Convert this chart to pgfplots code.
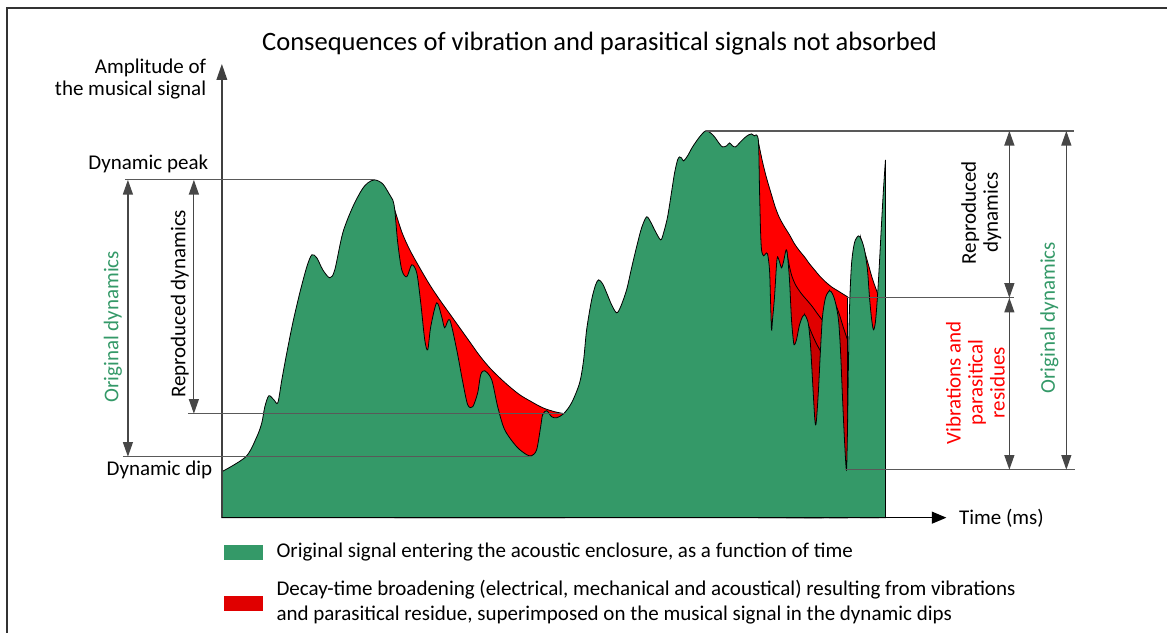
\documentclass[border=0pt]{standalone}
\usepackage{fontspec}
\setmainfont{Carlito}
\usepackage{pgfplots}
\pgfplotsset{compat=1.18}
\usetikzlibrary{arrows.meta}
\definecolor{sig}{RGB}{52,153,104}
\definecolor{dred}{RGB}{224,0,0}
\definecolor{ddred}{RGB}{200,0,0}
\definecolor{gl}{RGB}{89,89,89}
\newcommand{\lbl}{\fontsize{15.75}{16.5}\selectfont}
\newcommand{\ttl}{\fontsize{19.9}{22}\selectfont}
\newcommand{\leg}{\fontsize{15.75}{18.75}\selectfont}
\begin{document}
\begin{tikzpicture}
\begin{axis}[scale only axis, width=876pt, height=474.75pt,
  xmin=0, xmax=1168, ymin=-115, ymax=518, hide axis, clip=false]
\path (axis cs:0,-115) rectangle (axis cs:1168,518);
% frame
\draw[black!80, line width=1.1pt] (axis cs:7,-115) -- (axis cs:7,510) -- (axis cs:1168,510);
% ---- red envelopes
\addplot[fill=red, draw=black, line width=0.6pt, smooth, tension=0.5] coordinates {
(395,308) (402,286) (410,268) (420,250) (430,233) (440,218) (450,204) (460,190)
(470,176) (480,162) (490,150) (500,140) (510,131) (520,123) (530,117) (543,110)
(555,106) (565,104)} \closedcycle;
\addplot[fill=red, draw=black, line width=0.6pt, smooth, tension=0.5] coordinates {
(759,375) (763,356) (767,340) (772,323) (776,310) (780,300) (785,291) (790,283)
(795,274) (800,267) (805,261) (810,254) (815,248) (820,242) (826,236) (832,231)
(840,226) (848,221)} \closedcycle;
\addplot[fill=dred, draw=black, line width=0.6pt, smooth, tension=0.5] coordinates {
(787,268) (789,256) (792,243) (796,233) (802,224) (808,217) (813,211) (818,204) (824,196)} \closedcycle;
\addplot[fill=ddred, draw=black, line width=0.6pt, smooth, tension=0.5] coordinates {
(805,203) (808,195) (812,185) (817,174) (822,165)} \closedcycle;
\addplot[fill=ddred, draw=black, line width=0.6pt, smooth, tension=0.5] coordinates {
(830,227) (833,221) (836,214) (840,203) (844,190) (848,178)} \closedcycle;
\addplot[fill=red, draw=black, line width=0.6pt, smooth, tension=0.5] coordinates {
(861,281) (865,267) (869,253) (873,239) (879,222)} \closedcycle;
% ---- original signal
\addplot[fill=sig, draw=black, line width=0.6pt, smooth, tension=0.5] coordinates {
(222,46) (246,61) (257,81) (262,95) (265,111) (269,122) (274,118) (278,115)
(282,138) (287,165) (293,195) (300,225) (307,251) (312,263) (317,260) (323,248)
(330,240) (335,248) (343,285) (353,311) (362,328) (368,335) (375,338) (383,334)
(390,323) (393,318) (395,308) (398,275) (402,248) (407,241) (412,253) (417,245)
(421,215) (425,178) (428,168) (431,191) (437,215) (442,201) (445,190) (450,198)
(457,168) (463,136) (468,113) (473,111) (478,125) (481,143) (485,147) (492,138)
(498,111) (505,88) (517,71) (527,63) (532,62) (537,68) (541,91) (543,103)
(547,107) (552,101) (557,100) (564,104) (572,115) (580,135) (584,158) (587,188)
(592,218) (596,233) (599,238) (603,234) (607,225) (612,213) (617,205) (621,211)
(627,228) (632,250) (637,271) (642,290) (647,301) (651,296) (655,288) (661,278)
(664,285) (668,301) (672,326) (675,345) (678,358) (680,361) (682,360) (684,357)
(688,362) (693,371) (700,381) (706,387) (711,385) (715,381) (720,374) (723,371)
(727,372) (730,375) (733,372) (736,371) (740,375) (745,380) (749,383) (752,384)
(755,382) (757,383) (759,375) (760,328) (761,288) (762,268) (764,262) (766,264)
(768,264) (770,248) (771,218) (772,188) (773,198) (775,221) (777,253) (778,261)
(780,256) (782,250) (784,256) (786,266) (787,268) (788,262) (790,238) (792,198)
(794,176) (795,173) (797,178) (800,193) (803,201) (805,203) (807,200) (809,193)
(811,173) (813,138) (815,103) (816,93) (817,98) (819,128) (821,168) (823,201)
(826,220) (830,227) (833,224) (836,215) (839,198) (841,168) (843,121) (845,78)
(847,48) (848,88) (849,155) (850,208) (852,253) (855,275) (859,282) (862,278)
(865,268) (868,248) (870,221) (872,200) (874,188) (876,196) (878,221) (880,255)
(882,293) (884,328) (886,358)} \closedcycle;
% ---- axes
\draw[black!75, line width=1pt, -{Triangle[length=12pt,width=8pt]}] (axis cs:222,0) -- (axis cs:222,454);
\draw[black, line width=1pt, -{Triangle[length=11pt,width=9pt]}] (axis cs:222,0) -- (axis cs:947,0);
% ---- guide lines
\draw[gl, line width=0.9pt] (axis cs:125,338) -- (axis cs:375,338);
\draw[gl, line width=0.9pt] (axis cs:123,61) -- (axis cs:532,61);
\draw[gl, line width=0.9pt] (axis cs:188,104) -- (axis cs:565,104);
\draw[gl, line width=0.9pt] (axis cs:706,387) -- (axis cs:1075,387);
\draw[gl, line width=0.9pt] (axis cs:848,220) -- (axis cs:1015,220);
\draw[gl, line width=0.9pt] (axis cs:846,48) -- (axis cs:1076,48);
% ---- dimension arrows
\tikzset{dim/.style={gl!80!black, line width=0.9pt, {Triangle[length=11pt,width=7.5pt]}-{Triangle[length=11pt,width=7.5pt]}}}
\draw[dim] (axis cs:128,338) -- (axis cs:128,61);
\draw[dim] (axis cs:194,338) -- (axis cs:194,104);
\draw[dim] (axis cs:1010,387) -- (axis cs:1010,220);
\draw[dim] (axis cs:1010,220) -- (axis cs:1010,48);
\draw[dim] (axis cs:1067,387) -- (axis cs:1067,48);
% ---- texts
\node[font=\ttl] at (axis cs:600,474) {Consequences of vibration and parasitical signals not absorbed};
\node[font=\lbl, anchor=east, align=right] at (axis cs:211,439) {Amplitude of\\the musical signal};
\node[font=\lbl, anchor=east] at (axis cs:213,354) {Dynamic peak};
\node[font=\lbl, anchor=east] at (axis cs:217,48) {Dynamic dip};
\node[font=\lbl, rotate=90, text=sig] at (axis cs:113,191) {Original dynamics};
\node[font=\lbl, rotate=90] at (axis cs:180,214) {Reproduced dynamics};
\node[font=\lbl, rotate=90, align=center] at (axis cs:982,305) {Reproduced\\dynamics};
\node[font=\lbl, rotate=90, align=center, text=red] at (axis cs:976,135) {Vibrations and\\parasitical\\residues};
\node[font=\lbl, rotate=90, text=sig] at (axis cs:1050,200) {Original dynamics};
\node[font=\lbl, anchor=west] at (axis cs:955,-1) {Time (ms)};
% ---- legend
\addplot[fill=sig, draw=none] coordinates {(224,-27) (263,-27) (263,-42) (224,-42)} -- cycle;
\addplot[fill=dred, draw=none] coordinates {(224,-78) (263,-78) (263,-93) (224,-93)} -- cycle;
\node[font=\leg, anchor=west] at (axis cs:272,-34) {Original signal entering the acoustic enclosure, as a function of time};
\node[font=\leg, anchor=west, align=left] at (axis cs:272,-85) {Decay-time broadening (electrical, mechanical and acoustical) resulting from vibrations\\and parasitical residue, superimposed on the musical signal in the dynamic dips};
\end{axis}
\end{tikzpicture}
\end{document}
